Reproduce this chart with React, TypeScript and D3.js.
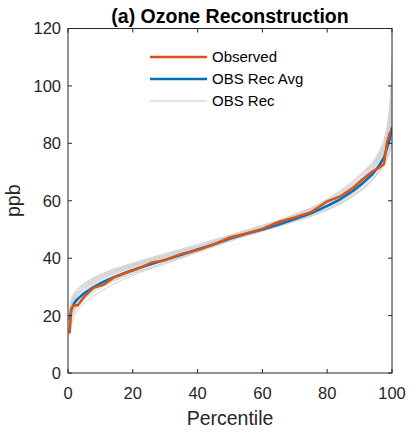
import React from "react";
import * as d3 from "d3";

// Percentile grid shared by all series
const percentiles = [0.5, 1, 2, 3, 5, 8, 11, 14, 18, 22, 26, 30, 35, 40, 45, 50, 55, 60, 65, 70, 75, 80, 84, 88, 91, 94, 96, 97.5, 98.5, 99.3, 100];

const observed = [13.8, 22.5, 23.7, 23.5, 26.5, 29.8, 30.7, 33.2, 35.0, 36.5, 38.5, 39.3, 41.5, 42.8, 44.8, 47.2, 48.6, 50.2, 52.6, 54.2, 56.0, 59.8, 61.5, 64.5, 67.5, 70.2, 71.5, 72.8, 80.5, 83.6, 84.5];

const recAvg = [18.5, 22, 24.5, 25.8, 27.8, 30, 31.8, 33.3, 35, 36.6, 38, 39.4, 41.2, 43, 44.8, 46.8, 48.5, 50, 51.7, 53.6, 55.6, 58.2, 60.5, 63.5, 66.2, 69.3, 72.2, 75, 78.5, 81.5, 85.5];

// Individual reconstructions
const rec01 = [17, 23, 26, 27.5, 29.5, 32, 33.5, 35, 36.5, 38, 39.5, 40.8, 42.5, 44.2, 46, 48, 49.8, 51.5, 53.2, 55.3, 57.5, 60.5, 63, 66.5, 69.5, 73, 77, 81, 86, 93, 108];
const rec02 = [13, 17, 20, 22, 24.5, 27, 29, 31, 33, 35, 36.5, 38, 40, 42, 44, 46, 47.8, 49.3, 51, 52.8, 54.6, 56.8, 59, 61.5, 64, 67, 70, 72.5, 75, 78, 80];
const rec03 = [20, 24, 26.5, 28, 30, 32.5, 34, 35.3, 36.8, 38, 39.2, 40.3, 41.8, 43.5, 45.3, 47, 48.8, 50.5, 52, 54, 56.2, 59, 61.8, 65, 68.5, 72.5, 76, 79, 83, 88, 97];
const rec04 = [15, 19, 22, 24, 26.5, 29, 31, 32.5, 34.5, 36, 37.8, 39.2, 41, 42.8, 44.5, 46.5, 48.3, 50, 51.8, 53.6, 55.5, 58, 60.3, 63, 65.8, 69, 72, 74.5, 77.5, 80.5, 84];
const rec05 = [21, 25, 27.5, 29, 31, 33, 34.5, 36, 37.3, 38.7, 40, 41.2, 42.8, 44.3, 46, 47.7, 49.3, 51, 52.8, 54.8, 57, 60, 62.5, 65.5, 68, 71, 74, 77.5, 82, 85, 90];
const rec06 = [16, 21, 23.5, 25.5, 27.5, 29.5, 31.3, 33, 34.8, 36.5, 38, 39.5, 41.2, 43, 44.8, 46.6, 48.3, 49.8, 51.5, 53.2, 55, 57.5, 59.8, 62.5, 65.3, 68.3, 71.5, 74.5, 78, 82, 87];
const rec07 = [18, 22.5, 25, 26.5, 28.5, 31, 33, 34.5, 36, 37.3, 38.6, 40, 41.5, 43.2, 45, 46.8, 48.5, 50.2, 52, 54, 56, 58.5, 61, 64.3, 67.3, 71, 74.5, 78, 81, 84, 89];
const rec08 = [14, 20, 23, 24.8, 26.8, 29, 30.8, 32.3, 34, 35.5, 37, 38.6, 40.5, 42.3, 44.2, 46.2, 48, 49.6, 51.3, 53, 54.8, 57, 59.3, 62, 64.5, 67.5, 70.5, 73, 76, 79, 82];
const rec09 = [19, 23.5, 26, 27.8, 30, 32, 33.5, 35.2, 37, 38.5, 39.8, 41, 42.5, 44, 45.7, 47.4, 49, 50.7, 52.5, 54.5, 56.8, 59.8, 62.5, 66, 69.3, 72.5, 75.5, 78.5, 82.5, 86, 92];
const rec10 = [17, 21.5, 24, 25.5, 27.3, 29.7, 31.7, 33.4, 35, 36.4, 37.8, 39.2, 41, 42.8, 44.6, 46.4, 48.2, 49.9, 51.6, 53.4, 55.3, 57.8, 60.2, 63, 66, 69.5, 73, 76, 80, 83, 86];
const rec11 = [22, 26, 28, 29.5, 31.3, 33.3, 34.8, 36.2, 37.6, 39, 40.3, 41.6, 43.2, 44.8, 46.4, 48, 49.6, 51.2, 53, 55, 57.3, 60.5, 63.5, 67, 70, 73.5, 76.5, 80, 84, 90, 100];
const rec12 = [15, 18.5, 21.5, 23.5, 25.7, 28.2, 30.2, 32, 33.8, 35.4, 37, 38.5, 40.3, 42.2, 44.1, 46, 47.8, 49.5, 51.2, 52.9, 54.6, 56.8, 58.8, 61.5, 64, 67.2, 70, 72, 74.5, 77, 79];
const rec13 = [18, 23, 25.5, 27.2, 29.2, 31.5, 33, 34.6, 36.2, 37.7, 39, 40.5, 42.2, 43.9, 45.6, 47.3, 49, 50.6, 52.3, 54.2, 56.3, 59, 61.2, 64.3, 67, 70.5, 73.8, 77, 80.5, 84, 88];
const rec14 = [16, 20.5, 23, 25, 27, 29.5, 31.5, 33.2, 35, 36.6, 38, 39.6, 41.4, 43.2, 45, 46.8, 48.6, 50.4, 52.2, 54.3, 56.6, 59.5, 62, 65.5, 68.3, 71.5, 75, 78.5, 83, 88, 95];
const rec15 = [20, 24.5, 27, 28.7, 30.6, 32.6, 34.2, 35.6, 37, 38.3, 39.6, 40.9, 42.4, 44, 45.6, 47.2, 48.8, 50.3, 51.9, 53.6, 55.4, 57.8, 60, 62.8, 65.5, 68.6, 71.8, 74.8, 78.5, 81.5, 85];
const rec16 = [14.5, 21, 24.5, 26.2, 28, 30.3, 32.2, 33.8, 35.5, 37, 38.4, 39.8, 41.7, 43.5, 45.3, 47.1, 48.9, 50.6, 52.5, 54.5, 56.5, 59.2, 61.8, 65, 68, 71.8, 75.5, 79, 83, 87, 92];

const reconstructions = [rec01, rec02, rec03, rec04, rec05, rec06, rec07, rec08, rec09, rec10, rec11, rec12, rec13, rec14, rec15, rec16];

const xTicks = [0, 20, 40, 60, 80, 100];
const yTicks = [0, 20, 40, 60, 80, 100, 120];
const legendLabels = ["Observed", "OBS Rec Avg", "OBS Rec"];

const W = 411;
const H = 436;
const margin = { left: 68, right: 19, top: 28.5, bottom: 63 };

const ORANGE = "#D95319";
const BLUE = "#0072BD";
const GRAY = "#d2d2d2";
const AXIS = "#262626";
const FONT = "'Liberation Sans', Arial, Helvetica, sans-serif";

export default function App() {
  const x = d3.scaleLinear().domain([0, 100]).range([margin.left, W - margin.right]);
  const y = d3.scaleLinear().domain([0, 120]).range([H - margin.bottom, margin.top]);

  const line = d3
    .line<number>()
    .x((_, i) => x(percentiles[i]))
    .y((d) => y(d));

  const [x0, x1] = x.range();
  const [yb, yt] = y.range();
  const tickLen = 4;
  const legendColors = [ORANGE, BLUE, "#e3e3e3"];
  const legendWidths = [2.5, 2.5, 2];

  return (
    <svg
      width={W}
      height={H}
      style={{ position: "absolute", left: 0, top: 0, background: "#fff" }}
      fontFamily={FONT}
    >
      <defs>
        <clipPath id="plotArea">
          <rect x={x0} y={yt} width={x1 - x0} height={yb - yt} />
        </clipPath>
      </defs>

      <g clipPath="url(#plotArea)" fill="none" strokeLinejoin="round">
        {reconstructions.map((s, i) => (
          <path key={i} d={line(s) ?? ""} stroke={GRAY} strokeWidth={1} />
        ))}
        <path d={line(recAvg) ?? ""} stroke={BLUE} strokeWidth={2.5} />
        <path d={line(observed) ?? ""} stroke={ORANGE} strokeWidth={2.5} />
      </g>

      {/* axes box */}
      <rect x={x0} y={yt} width={x1 - x0} height={yb - yt} fill="none" stroke={AXIS} strokeWidth={1} />

      {xTicks.map((t) => (
        <g key={`x${t}`}>
          <line x1={x(t)} x2={x(t)} y1={yb} y2={yb - tickLen} stroke={AXIS} />
          <line x1={x(t)} x2={x(t)} y1={yt} y2={yt + tickLen} stroke={AXIS} />
          <text x={x(t)} y={yb + 26} textAnchor="middle" fontSize={16.5} fill={AXIS}>
            {t}
          </text>
        </g>
      ))}

      {yTicks.map((t) => (
        <g key={`y${t}`}>
          <line x1={x0} x2={x0 + tickLen} y1={y(t)} y2={y(t)} stroke={AXIS} />
          <line x1={x1} x2={x1 - tickLen} y1={y(t)} y2={y(t)} stroke={AXIS} />
          <text x={x0 - 7} y={y(t)} dy="0.36em" textAnchor="end" fontSize={16.5} fill={AXIS}>
            {t}
          </text>
        </g>
      ))}

      <text x={(x0 + x1) / 2} y={425} textAnchor="middle" fontSize={19.5} fill={AXIS}>
        Percentile
      </text>
      <text transform={`translate(20,${(yt + yb) / 2}) rotate(-90)`} textAnchor="middle" fontSize={19.5} fill={AXIS}>
        ppb
      </text>

      <text x={(x0 + x1) / 2} y={23} textAnchor="middle" fontSize={19.5} fontWeight="bold" fill="#000">
        (a) Ozone Reconstruction
      </text>

      {legendLabels.map((label, i) => {
        const ly = 57 + i * 22;
        return (
          <g key={label}>
            <line x1={150} x2={207} y1={ly} y2={ly} stroke={legendColors[i]} strokeWidth={legendWidths[i]} />
            <text x={212} y={ly} dy="0.36em" fontSize={15} fill="#000">
              {label}
            </text>
          </g>
        );
      })}
    </svg>
  );
}
